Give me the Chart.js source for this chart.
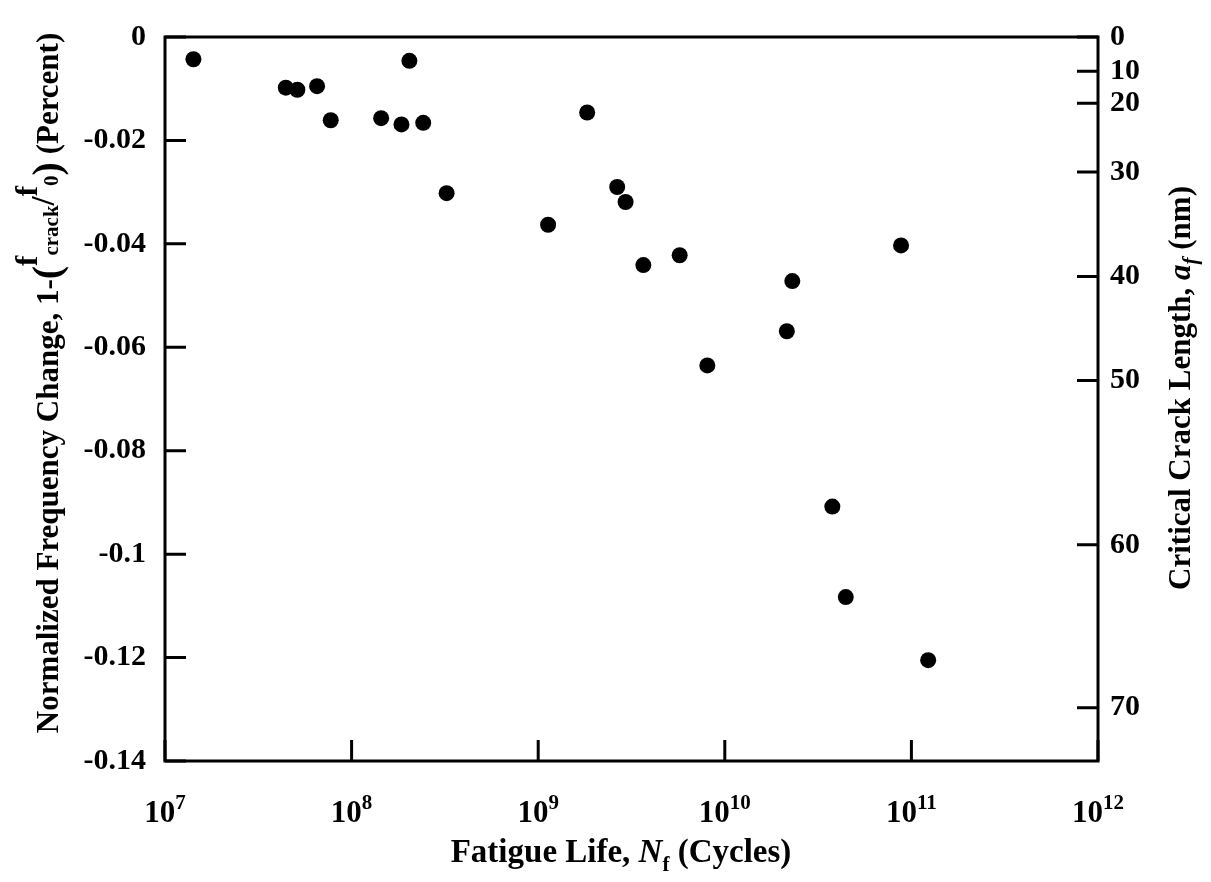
<!DOCTYPE html>
<html>
<head>
<meta charset="utf-8">
<script src="https://cdn.jsdelivr.net/npm/chart.js@4"></script>
<style>
  body { margin: 0; background: #fff; }
  #wrap { width: 1211px; height: 882px; position: relative; }
</style>
</head>
<body>
<div id="wrap"><canvas id="myChart"></canvas></div>
<script>
// tick labels
const xTickExps = [7, 8, 9, 10, 11, 12]
const yTickVals = [0, -0.02, -0.04, -0.06, -0.08, -0.1, -0.12, -0.14]
const crackLabels = [0, 10, 20, 30, 40, 50, 60, 70]
// where each crack length sits on the frequency axis
const crackTickPos = [0, -0.0066, -0.0128, -0.0261, -0.0463, -0.0664, -0.0982, -0.1297]

// data
const cycles = [1.42e7, 4.44e7, 5.12e7, 6.53e7, 7.73e7, 1.44e8, 1.85e8, 2.04e8, 2.42e8, 3.23e8,
    1.13e9, 1.83e9, 2.65e9, 2.94e9, 3.66e9, 5.73e9, 8.06e9, 2.15e10, 2.30e10, 3.77e10,
    4.45e10, 8.80e10, 1.23e11]
const freqChange = [-0.0043, -0.0098, -0.0102, -0.0095, -0.0161, -0.0157, -0.0169, -0.0046, -0.0166, -0.0302,
    -0.0363, -0.0146, -0.0290, -0.0319, -0.0441, -0.0422, -0.0635, -0.0569, -0.0472, -0.0908,
    -0.1083, -0.0403, -0.1205]

const serif = '"Liberation Serif", "Times New Roman", serif'
const tickFont = { family: serif, size: 30, weight: 'bold' }

const points = []
for (i = 0; i < cycles.length; i++) {
    points.push({ x: cycles[i], y: freqChange[i] })
}

function drawRich(c, runs, cx, cy, rot) {
    c.save()
    c.translate(cx, cy)
    c.rotate(rot)
    c.textAlign = 'left'
    c.textBaseline = 'alphabetic'
    c.fillStyle = '#000'
    let total = 0
    runs.forEach(r => {
        c.font = (r.it ? 'italic ' : '') + 'bold ' + r.size + 'px ' + serif
        r.w = c.measureText(r.t).width
        total += r.w
    })
    let x = -total / 2
    runs.forEach(r => {
        c.font = (r.it ? 'italic ' : '') + 'bold ' + r.size + 'px ' + serif
        c.fillText(r.t, x, r.dy || 0)
        x += r.w
    })
    c.restore()
}

const framePlugin = {
    id: 'frame',
    afterDraw(chart) {
        const c = chart.ctx
        const a = chart.chartArea
        const xs = chart.scales.x
        const yl = chart.scales.y
        const yr = chart.scales.y2
        const tl = 21
        c.save()
        c.strokeStyle = '#000'
        c.lineWidth = 3
        c.strokeRect(a.left, a.top, a.right - a.left, a.bottom - a.top)
        c.beginPath()
        xTickExps.forEach(e => {
            const px = xs.getPixelForValue(Math.pow(10, e))
            c.moveTo(px, a.bottom)
            c.lineTo(px, a.bottom - tl)
        })
        yTickVals.forEach(v => {
            const py = yl.getPixelForValue(v)
            c.moveTo(a.left, py)
            c.lineTo(a.left + tl, py)
        })
        crackTickPos.forEach(v => {
            const py = yr.getPixelForValue(v)
            c.moveTo(a.right, py)
            c.lineTo(a.right - tl, py)
        })
        c.stroke()

        // x tick labels with superscript exponents
        c.fillStyle = '#000'
        c.textBaseline = 'alphabetic'
        xTickExps.forEach(e => {
            const px = xs.getPixelForValue(Math.pow(10, e))
            c.font = 'bold 31px ' + serif
            const w1 = c.measureText('10').width
            c.font = 'bold 21px ' + serif
            const w2 = c.measureText(String(e)).width
            const x0 = px - (w1 + w2) / 2
            c.font = 'bold 31px ' + serif
            c.textAlign = 'left'
            c.fillText('10', x0, 822)
            c.font = 'bold 21px ' + serif
            c.fillText(String(e), x0 + w1, 809)
        })
        c.restore()

        // axis titles
        drawRich(c, [
            { t: 'Fatigue Life, ', size: 33 },
            { t: 'N', size: 33, it: true },
            { t: 'f', size: 21, dy: 9 },
            { t: ' (Cycles)', size: 33 }
        ], 621, 862, 0)

        drawRich(c, [
            { t: 'Normalized Frequency Change, 1-', size: 31 },
            { t: '(', size: 40, dy: 2 },
            { t: 'f', size: 31, dy: -21 },
            { t: 'crack', size: 21, dy: 0 },
            { t: '/', size: 33, dy: -4 },
            { t: 'f', size: 31, dy: -21 },
            { t: '0', size: 21, dy: 0 },
            { t: ')', size: 40, dy: 2 },
            { t: ' (Percent)', size: 31 }
        ], 58, 383, -Math.PI / 2)

        drawRich(c, [
            { t: 'Critical Crack Length, ', size: 31 },
            { t: 'a', size: 31, it: true },
            { t: 'f', size: 21, it: true, dy: 7 },
            { t: ' (nm)', size: 31 }
        ], 1190, 388, -Math.PI / 2)
    }
}

const ctx = document.getElementById('myChart').getContext('2d')
const myChart = new Chart(ctx, {
    type: 'scatter',
    data: {
        datasets: [{
            data: points,
            backgroundColor: '#000',
            borderWidth: 0,
            pointRadius: 8,
            yAxisID: 'y'
        }]
    },
    options: {
        responsive: true,
        maintainAspectRatio: false,
        animation: false,
        layout: { padding: { top: 14, left: 0, right: 0, bottom: 0 } },
        plugins: { legend: { display: false }, tooltip: { enabled: false } },
        scales: {
            x: {
                type: 'logarithmic',
                min: 1e7,
                max: 1e12,
                afterBuildTicks: s => { s.ticks = xTickExps.map(e => ({ value: Math.pow(10, e) })) },
                ticks: { display: false },
                grid: { display: false, drawTicks: false },
                border: { display: false },
                afterFit: s => { s.height = 121 }
            },
            y: {
                type: 'linear',
                position: 'left',
                min: -0.14,
                max: 0,
                afterBuildTicks: s => { s.ticks = yTickVals.map(v => ({ value: v })) },
                ticks: { font: tickFont, color: '#000', padding: 19, callback: v => String(v) },
                grid: { display: false, drawTicks: false },
                border: { display: false },
                afterFit: s => { s.width = 165 }
            },
            y2: {
                type: 'linear',
                position: 'right',
                min: -0.14,
                max: 0,
                afterBuildTicks: s => { s.ticks = crackTickPos.map(v => ({ value: v })) },
                ticks: { font: tickFont, color: '#000', padding: 12, callback: (v, i) => String(crackLabels[i]) },
                grid: { display: false, drawTicks: false },
                border: { display: false },
                afterFit: s => { s.width = 113 }
            }
        }
    },
    plugins: [framePlugin]
})
</script>
</body>
</html>
